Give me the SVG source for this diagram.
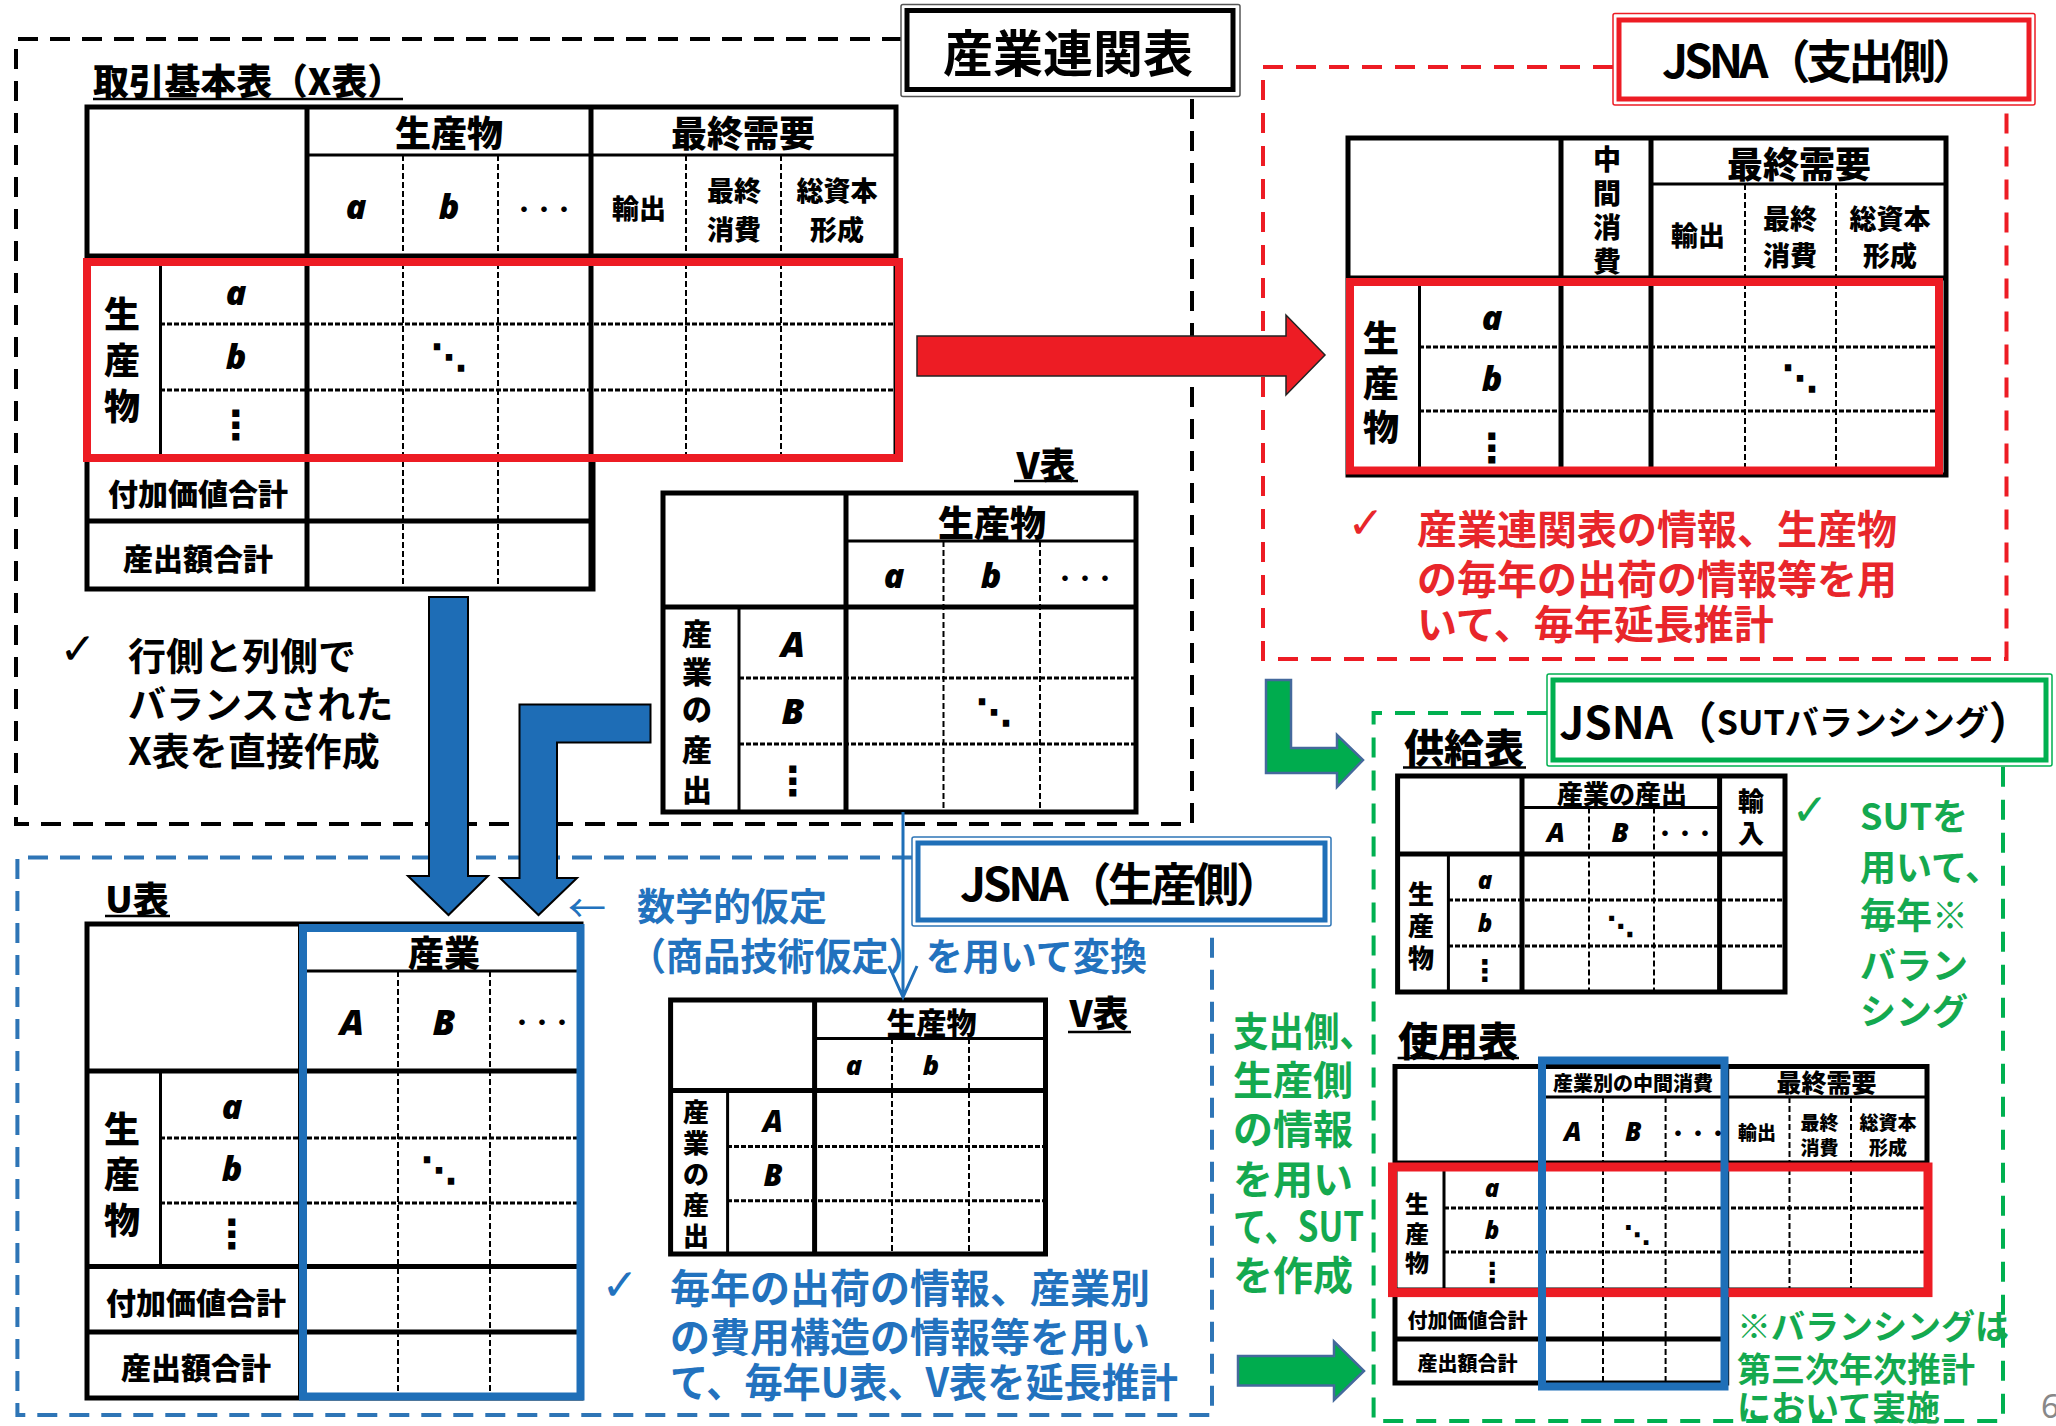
<svg xmlns="http://www.w3.org/2000/svg" width="2056" height="1426" viewBox="0 0 2056 1426">
<style>
text{font-family:'Noto Sans CJK JP','Noto Sans',sans-serif;font-weight:bold;text-anchor:middle;dominant-baseline:central;fill:#000}
.tb text{font-weight:900}
.s{text-anchor:start}
.it{font-family:'Noto Sans','Liberation Sans',sans-serif;font-style:italic}
.dot{font-family:'DejaVu Sans','Noto Sans CJK JP',sans-serif;font-weight:bold}
.ck{font-family:'DejaVu Sans',sans-serif;font-weight:normal;font-size:44px}
.k{stroke:#000;stroke-width:5;fill:none;stroke-linecap:square}
.m{stroke:#000;stroke-width:3;fill:none}
.d{stroke:#000;stroke-width:2;stroke-dasharray:6 3;fill:none}
.r{stroke:#000;stroke-width:3;stroke-dasharray:5 2;fill:none}
.ul{stroke:#000;stroke-width:2.5}
.red{fill:#E8262B}
.blu{fill:#2272BE}
.grn{fill:#14A94F}
.bg{fill:#fff}
.f20{font-size:20px}.f24{font-size:24px}.f26{font-size:26px}.f27{font-size:27px}.f28{font-size:28px}.f30{font-size:30px}.f32{font-size:32px}.f34{font-size:34px}.f36{font-size:36px}.f38{font-size:38px}.f40{font-size:40px}.f46{font-size:46px}.f50{font-size:50px}
</style>

<!-- region boxes -->
<g id="region-io">
<path d="M902 39 H16 V824 H1192 V94" fill="none" stroke="#000" stroke-width="4" stroke-dasharray="20 12"/>
<rect x="901" y="4.5" width="339" height="92" fill="#fff" stroke="#555" stroke-width="1.5" rx="2"/>
<rect x="907" y="10.5" width="326" height="79" fill="none" stroke="#000" stroke-width="5"/>
<text x="1068" y="50" class="f50">産業連関表</text>
</g>

<g id="region-exp">
<path d="M1613 67 H1263 V659 H2006.5 V105" fill="none" stroke="#ED1C24" stroke-width="4" stroke-dasharray="20 13"/>
<rect x="1613" y="13.5" width="422" height="91.5" fill="#fff" stroke="#ED1C24" stroke-width="1.5" rx="2"/>
<rect x="1619" y="20" width="410" height="79" fill="none" stroke="#ED1C24" stroke-width="5"/>
<text x="1820" y="58" class="f46" textLength="316" lengthAdjust="spacing">JSNA（支出側）</text>
</g>

<g id="region-prod">
<path d="M912 857.5 H17.4 V1415 H1212 V926" fill="none" stroke="#2E75B6" stroke-width="4" stroke-dasharray="20 12"/>
<rect x="912" y="837" width="419" height="89" fill="#fff" stroke="#2E75B6" stroke-width="1.5" rx="2"/>
<rect x="918" y="843" width="407" height="77" fill="none" stroke="#1F6FB8" stroke-width="5"/>
<text x="1121" y="881" class="f46" textLength="322" lengthAdjust="spacing">JSNA（生産側）</text>
</g>

<g id="region-sut">
<path d="M1547 713 H1373.6 V1421 H2003 V766" fill="none" stroke="#00B050" stroke-width="4" stroke-dasharray="20 13"/>
<rect x="1547" y="674" width="505" height="92" fill="#fff" stroke="#00B050" stroke-width="1.5" rx="2"/>
<rect x="1553" y="680" width="493" height="80" fill="none" stroke="#00B050" stroke-width="5"/>
<text x="1796" y="720" style="font-size:44px">JSNA（<tspan style="font-size:34px">SUTバランシング</tspan>）</text>
</g>

<!-- X table -->
<g id="x-table" class="tb">
<text x="93" y="79" class="s f36" textLength="310" lengthAdjust="spacingAndGlyphs">取引基本表（X表）</text>
<line x1="93" y1="99" x2="403" y2="99" class="ul"/>
<rect x="87" y="107" width="809" height="351" class="bg"/>
<rect x="87" y="458" width="506" height="131" class="bg"/>
<path class="d" d="M403 155 V589 M498 155 V589 M686 155 V458 M781 155 V458"/>
<path class="r" d="M160 324 H896 M160 390 H896"/>
<path class="k" d="M87 107 H896 V458 M87 107 V589 H593 V458 M87 256 H896 M307 107 V589 M591 107 V589 M87 521 H593 M87 458 H593"/>
<path class="m" d="M307 155 H896 M160.5 262 V458"/>
<rect x="87" y="262" width="812" height="196" fill="none" stroke="#ED1C24" stroke-width="8"/>
<text x="449" y="131" class="f36">生産物</text>
<text x="743" y="131" class="f36">最終需要</text>
<text x="356" y="206" class="it f34">a</text>
<text x="449" y="206" class="it f34">b</text>
<text x="544" y="208" class="f20">・・・</text>
<text x="639" y="207" class="f27">輸出</text>
<text x="734" y="189" class="f27">最終</text>
<text x="734" y="228" class="f27">消費</text>
<text x="837" y="189" class="f27">総資本</text>
<text x="837" y="228" class="f27">形成</text>
<text x="122" y="312" class="f36">生</text>
<text x="122" y="358" class="f36">産</text>
<text x="122" y="404" class="f36">物</text>
<text x="236" y="292" class="it f34">a</text>
<text x="236" y="356" class="it f34">b</text>
<text x="236" y="425" class="dot" style="font-size:40px">⋮</text>
<text x="449" y="357" class="dot" style="font-size:36px">⋱</text>
<text x="198" y="492" class="f30">付加価値合計</text>
<text x="198" y="557" class="f30">産出額合計</text>
</g>

<!-- JSNA expenditure table -->
<g id="exp-table" class="tb">
<rect x="1348" y="138" width="598" height="337" class="bg"/>
<path class="d" d="M1745 184 V475 M1836 184 V475"/>
<path class="r" d="M1419 347 H1946 M1419 411 H1946"/>
<path class="k" d="M1348 138 H1946 V475 H1348 Z M1561 138 V475 M1651 138 V475 M1348 278 H1946"/>
<path class="m" d="M1651 184 H1946 M1419.5 282 V475"/>
<rect x="1350" y="282" width="589" height="188.5" fill="none" stroke="#ED1C24" stroke-width="8"/>
<text x="1607" y="158" class="f28">中</text>
<text x="1607" y="192" class="f28">間</text>
<text x="1607" y="226" class="f28">消</text>
<text x="1607" y="260" class="f28">費</text>
<text x="1799" y="162" class="f36">最終需要</text>
<text x="1698" y="234" class="f27">輸出</text>
<text x="1790" y="217" class="f27">最終</text>
<text x="1790" y="254" class="f27">消費</text>
<text x="1890" y="217" class="f27">総資本</text>
<text x="1890" y="254" class="f27">形成</text>
<text x="1381" y="336" class="f36">生</text>
<text x="1381" y="381" class="f36">産</text>
<text x="1381" y="425" class="f36">物</text>
<text x="1492" y="317" class="it f34">a</text>
<text x="1492" y="378" class="it f34">b</text>
<text x="1492" y="448" class="dot" style="font-size:40px">⋮</text>
<text x="1800" y="378" class="dot" style="font-size:36px">⋱</text>
</g>

<!-- V table upper -->
<g id="v-table-1" class="tb">
<text x="1046" y="463" class="f36">V表</text>
<line x1="1014" y1="481" x2="1078" y2="481" class="ul"/>
<rect x="663" y="493" width="473" height="319" class="bg"/>
<path class="d" d="M943.5 541 V812 M1040 541 V812"/>
<path class="r" d="M739 678 H1136 M739 744 H1136"/>
<path class="k" d="M663 493 H1136 V812 H663 Z M846 493 V812 M663 607 H1136"/>
<path class="m" d="M846 541 H1136 M739 607 V812"/>
<text x="992" y="521" class="f36">生産物</text>
<text x="894" y="575" class="it f34">a</text>
<text x="991" y="575" class="it f34">b</text>
<text x="1085" y="577" class="f20">・・・</text>
<text x="697" y="632" class="f30">産</text>
<text x="697" y="670" class="f30">業</text>
<text x="697" y="707" class="f30">の</text>
<text x="697" y="748" class="f30">産</text>
<text x="697" y="788" class="f30">出</text>
<text x="793" y="643" class="it f36">A</text>
<text x="793" y="710" class="it f36">B</text>
<text x="793" y="781" class="dot" style="font-size:40px">⋮</text>
<text x="994" y="712" class="dot" style="font-size:36px">⋱</text>
</g>

<!-- U table -->
<g id="u-table" class="tb">
<text x="137" y="897" class="f36">U表</text>
<line x1="105" y1="916" x2="170" y2="916" class="ul"/>
<rect x="87" y="924" width="494" height="474" class="bg"/>
<path class="d" d="M398 971 V1398 M490 971 V1398"/>
<path class="r" d="M160 1138 H581 M160 1203 H581"/>
<path class="k" d="M87 924 H581 V1398 H87 Z M300.5 924 V1398 M87 1071 H581 M87 1266.5 H581 M87 1332 H581"/>
<path class="m" d="M300 971 H581 M160.5 1071 V1266"/>
<rect x="303" y="928" width="277.5" height="468.5" fill="none" stroke="#1F6FB8" stroke-width="8"/>
<text x="444" y="951" class="f36">産業</text>
<text x="352" y="1021" class="it f36">A</text>
<text x="444" y="1021" class="it f36">B</text>
<text x="542" y="1021" class="f20">・・・</text>
<text x="122" y="1127" class="f36">生</text>
<text x="122" y="1172" class="f36">産</text>
<text x="122" y="1218" class="f36">物</text>
<text x="232" y="1106" class="it f34">a</text>
<text x="232" y="1168" class="it f34">b</text>
<text x="232" y="1234" class="dot" style="font-size:40px">⋮</text>
<text x="439" y="1170" class="dot" style="font-size:36px">⋱</text>
<text x="196" y="1301" class="f30">付加価値合計</text>
<text x="196" y="1366" class="f30">産出額合計</text>
</g>

<!-- V table lower -->
<g id="v-table-2" class="tb">
<text x="1099" y="1011" class="f36">V表</text>
<line x1="1068" y1="1032" x2="1131" y2="1032" class="ul"/>
<rect x="670.6" y="1000" width="375" height="254" class="bg"/>
<path class="d" d="M892 1038 V1254 M969 1038 V1254"/>
<path class="r" d="M727 1146.6 H1045 M727 1200.7 H1045"/>
<path class="k" d="M670.6 1000 H1045.5 V1254 H670.6 Z M814.6 1000 V1254 M670.6 1090.6 H1045.5"/>
<path class="m" d="M814.6 1038.4 H1045.5 M727.6 1091 V1254"/>
<text x="931.6" y="1021" class="f30">生産物</text>
<text x="854" y="1064" class="it f27">a</text>
<text x="931" y="1064" class="it f27">b</text>
<text x="696" y="1110" class="f26">産</text>
<text x="696" y="1141" class="f26">業</text>
<text x="696" y="1172" class="f26">の</text>
<text x="696" y="1203" class="f26">産</text>
<text x="696" y="1234" class="f26">出</text>
<text x="773" y="1120" class="it f30">A</text>
<text x="773" y="1174" class="it f30">B</text>
</g>

<!-- Supply table -->
<g id="supply-table" class="tb">
<text x="1464" y="746" class="f40">供給表</text>
<line x1="1403" y1="767.5" x2="1526" y2="767.5" class="ul"/>
<rect x="1397.6" y="776" width="387.4" height="216" class="bg"/>
<path class="d" d="M1589 807.5 V992 M1654 807.5 V992"/>
<path class="r" d="M1448 900 H1785 M1448 946 H1785"/>
<path class="k" d="M1397.6 776 H1785 V992 H1397.6 Z M1522 776 V992 M1719.6 776 V992 M1397.6 854 H1785"/>
<path class="m" d="M1522 807.5 H1719.6 M1448.4 854 V992"/>
<text x="1622" y="792" class="f26">産業の産出</text>
<text x="1556" y="831" class="it f27">A</text>
<text x="1620" y="831" class="it f27">B</text>
<text x="1685" y="832" class="f20">・・・</text>
<text x="1751" y="799" class="f26">輸</text>
<text x="1751" y="831" class="f26">入</text>
<text x="1421" y="892" class="f26">生</text>
<text x="1421" y="924" class="f26">産</text>
<text x="1421" y="956" class="f26">物</text>
<text x="1485" y="879" class="it f24">a</text>
<text x="1485" y="922" class="it f24">b</text>
<text x="1485" y="970" class="dot" style="font-size:30px">⋮</text>
<text x="1621" y="926" class="dot" style="font-size:28px">⋱</text>
</g>

<!-- Use table -->
<g id="use-table" class="tb">
<text x="1458" y="1039" class="f40">使用表</text>
<line x1="1397.6" y1="1058" x2="1519" y2="1058" class="ul"/>
<rect x="1395" y="1066.5" width="532" height="223.5" class="bg"/>
<rect x="1395" y="1290" width="331" height="93" class="bg"/>
<path class="d" d="M1603 1097 V1383 M1665.6 1097 V1383 M1789.5 1097 V1290 M1851 1097 V1290"/>
<path class="r" d="M1444 1208 H1927 M1444 1252 H1927"/>
<path class="k" d="M1395 1066.5 H1927 V1290 M1395 1066.5 V1383 H1726.7 V1066.5 M1541 1066.5 V1383 M1395 1163 H1927 M1395 1290 H1927 M1395 1339 H1726.7"/>
<path class="m" d="M1541 1097 H1927 M1444 1163 V1290"/>
<rect x="1392.5" y="1167" width="535.5" height="125.6" fill="none" stroke="#ED1C24" stroke-width="9"/>
<rect x="1542" y="1060.5" width="182.5" height="326" fill="none" stroke="#1F6FB8" stroke-width="8"/>
<text x="1633" y="1082" class="f20">産業別の中間消費</text>
<text x="1826.6" y="1081" style="font-size:25px">最終需要</text>
<text x="1572.7" y="1131" class="it f26">A</text>
<text x="1633.3" y="1131" class="it f26">B</text>
<text x="1698" y="1132" class="f20">・・・</text>
<text x="1757" y="1131" style="font-size:19px">輸出</text>
<text x="1819.5" y="1121.6" style="font-size:19px">最終</text>
<text x="1819.5" y="1146" style="font-size:19px">消費</text>
<text x="1888" y="1121.6" style="font-size:19px">総資本</text>
<text x="1888" y="1146" style="font-size:19px">形成</text>
<text x="1417" y="1202" class="f24">生</text>
<text x="1417" y="1232" class="f24">産</text>
<text x="1417" y="1261" class="f24">物</text>
<text x="1492" y="1187" class="it f24">a</text>
<text x="1492" y="1229" class="it f24">b</text>
<text x="1492" y="1272" class="dot" style="font-size:28px">⋮</text>
<text x="1637" y="1235" class="dot" style="font-size:26px">⋱</text>
<text x="1467.5" y="1319.5" class="f20">付加価値合計</text>
<text x="1467.5" y="1362" class="f20">産出額合計</text>
</g>

<!-- connectors -->
<g id="connectors">
<path d="M917 336 H1286 V315 L1325 355 L1286 395 V376 H917 Z" fill="#ED1C24" stroke="#222" stroke-width="1.5"/>
<path d="M429 597 H468 V876 H488 L448.5 915 L408 876 H429 Z" fill="#1E6DB6" stroke="#000" stroke-width="2"/>
<path d="M519.5 704.5 H650.5 V742.5 H557 V878 H577 L538.5 915 L500 878 H519.5 Z" fill="#1E6DB6" stroke="#000" stroke-width="2"/>
<path d="M903 812 V995 M889 966 L903 997 L917 966" fill="none" stroke="#1F6FB8" stroke-width="3"/>
<path d="M1266 680 H1291 V748 H1337 V735 L1363 760 L1337 787 V773 H1266 Z" fill="#00AC4E" stroke="#44699C" stroke-width="2.5"/>
<path d="M1238 1356 H1334 V1341.5 L1364 1371 L1334 1400 V1385.5 H1238 Z" fill="#00AC4E" stroke="#44699C" stroke-width="2.5"/>
</g>

<!-- notes -->
<g id="note-x">
<text x="78" y="648" class="ck">✓</text>
<text x="128" y="653" class="s f38">行側と列側で</text>
<text x="128" y="701" class="s f38">バランスされた</text>
<text x="128" y="748" class="s f38">X表を直接作成</text>
</g>
<g id="note-exp">
<text x="1366" y="522" class="ck red">✓</text>
<text x="1417" y="527" class="s f40 red">産業連関表の情報、生産物</text>
<text x="1417" y="577" class="s f40 red">の毎年の出荷の情報等を用</text>
<text x="1417" y="622" class="s f40 red">いて、毎年延長推計</text>
</g>
<g id="note-conv">
<text x="587" y="905" class="blu f38" style="font-weight:normal">←</text>
<text x="637" y="903" class="s f38 blu">数学的仮定</text>
<text x="629" y="953" class="s f38 blu" textLength="518" lengthAdjust="spacingAndGlyphs">（商品技術仮定）を用いて変換</text>
</g>
<g id="note-prod">
<text x="620" y="1284" class="ck blu">✓</text>
<text x="670" y="1286" class="s f40 blu">毎年の出荷の情報、産業別</text>
<text x="670" y="1335" class="s f40 blu">の費用構造の情報等を用い</text>
<text x="670" y="1380" class="s f40 blu" textLength="508" lengthAdjust="spacingAndGlyphs">て、毎年U表、V表を延長推計</text>
</g>
<g id="note-sut-left">
<text x="1233" y="1029" class="s f40 grn" textLength="142" lengthAdjust="spacingAndGlyphs">支出側、</text>
<text x="1233" y="1078" class="s f40 grn">生産側</text>
<text x="1233" y="1127" class="s f40 grn">の情報</text>
<text x="1233" y="1177" class="s f40 grn">を用い</text>
<text x="1233" y="1224" class="s f40 grn" textLength="131" lengthAdjust="spacingAndGlyphs">て、SUT</text>
<text x="1233" y="1273" class="s f40 grn">を作成</text>
</g>
<g id="note-sut-right">
<text x="1810" y="809" class="ck grn">✓</text>
<text x="1860" y="814" class="s f36 grn">SUTを</text>
<text x="1860" y="865" class="s f36 grn">用いて、</text>
<text x="1860" y="913" class="s f36 grn">毎年※</text>
<text x="1860" y="963" class="s f36 grn">バラン</text>
<text x="1860" y="1009" class="s f36 grn">シング</text>
</g>
<g id="note-sut-bottom">
<text x="1737" y="1324" class="s f34 grn">※バランシングは</text>
<text x="1737" y="1367" class="s f34 grn">第三次年次推計</text>
<text x="1737" y="1405" class="s f34 grn">において実施</text>
</g>
<text x="2041" y="1405" class="s" style="font-size:32px;font-weight:normal;fill:#888;font-family:'Noto Sans',sans-serif">6</text>
</svg>
